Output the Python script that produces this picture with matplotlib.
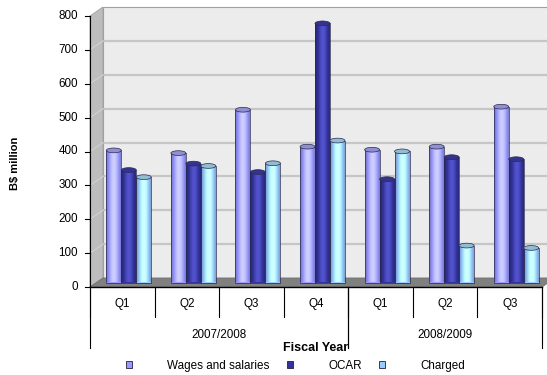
import matplotlib.pyplot as plt
import numpy as np
from matplotlib.patches import Polygon, Rectangle, Ellipse, Patch
from matplotlib.transforms import ScaledTranslation
from matplotlib.colors import to_rgb

plt.rcParams['font.family'] = ['Liberation Sans', 'DejaVu Sans']

quarters = ['Q1', 'Q2', 'Q3', 'Q4', 'Q1', 'Q2', 'Q3']
years = ['2007/2008', '2008/2009']
year_spans = [(0, 4), (4, 7)]
series = ['Wages and salaries', 'OCAR', 'Charged']
wages = [390, 382, 510, 401, 392, 401, 519]
ocar = [332, 351, 326, 765, 305, 370, 364]
charged = [311, 344, 352, 419, 387, 109, 102]
colors = ['#9999ff', '#333399', '#99ccff']
yticks = [0, 100, 200, 300, 400, 500, 600, 700, 800]

FS = 8.4
W, H = 547, 375
fig = plt.figure(figsize=(W / 100, H / 100), dpi=100)
# front plane of the 3-D box, in pixels
x0, x1, yb, yt = 90, 542, 287, 16
ax = fig.add_axes([x0 / W, 1 - yb / H, (x1 - x0) / W, (yb - yt) / H])
ax.set_xlim(0, len(quarters))
ax.set_ylim(0, 800)
ax.axis('off')

# depth of the box (px) expressed in data units
depth_px = (13, 9)
ux = len(quarters) / (x1 - x0)
uy = 800 / (yb - yt)
dx, dy = depth_px[0] * ux, depth_px[1] * uy
n = len(quarters)

# back wall
ax.add_patch(Polygon([(dx, dy), (n + dx, dy), (n + dx, 800 + dy), (dx, 800 + dy)],
                     closed=True, fc='#ececec', ec='#a0a0a0', lw=0.8,
                     clip_on=False, zorder=0))
# left side wall
ax.add_patch(Polygon([(0, 0), (dx, dy), (dx, 800 + dy), (0, 800)], closed=True,
                     fc='#bdbdbd', ec='#a0a0a0', lw=0.6, clip_on=False, zorder=0.5))
# floor
ax.add_patch(Polygon([(0, 0), (dx, dy), (n + dx, dy), (n, 0)], closed=True,
                     fc='#808080', ec='#707070', lw=0.6, clip_on=False, zorder=0.5))
# gridlines on the back wall and side wall
for v in yticks[1:-1]:
    ax.plot([dx, n + dx], [v + dy, v + dy], color='#c6c6c6', lw=1.6,
            clip_on=False, zorder=0.2, solid_capstyle='butt')
    ax.plot([0, dx], [v, v + dy], color='#d0d0d0', lw=0.8,
            clip_on=False, zorder=0.6)

# bars sit halfway into the box
mid = ScaledTranslation(depth_px[0] / 2 / 100, depth_px[1] / 2 / 100,
                        fig.dpi_scale_trans)
tr = ax.transData + mid
bw = 0.232
offsets = [-bw, 0, bw]
x = np.arange(n) + 0.5

def shade(c, t):
    # cylinder shading across the width
    base = np.array(to_rgb(c))
    f = 0.72 + 0.5 * np.sin(np.pi * (t * 0.85 + 0.05)) ** 1.5
    out = np.clip(base[None, :] * f[:, None] + (f[:, None] - 1).clip(0) * 0.35, 0, 1)
    return out

t = np.linspace(0, 1, 40)
for vals, off, c in zip([wages, ocar, charged], offsets, colors):
    grad = shade(c, t)[None, :, :]
    for xi, v in zip(x + off, vals):
        rect = Rectangle((xi - bw / 2, 0), bw, v, transform=tr, fc=c,
                         ec='none', zorder=2, clip_on=False)
        ax.add_patch(rect)
        im = ax.imshow(grad, extent=(xi - bw / 2, xi + bw / 2, 0, v),
                       aspect='auto', transform=tr, zorder=2.1,
                       interpolation='bilinear')
        im.set_clip_path(rect)
        ax.add_patch(Rectangle((xi - bw / 2, 0), bw, v, transform=tr,
                               fc='none', ec='#2a2a55', lw=0.5, zorder=2.2,
                               clip_on=False))
        ax.add_patch(Ellipse((xi, v), bw, 14, transform=tr,
                             fc=shade(c, np.array([0.3]))[0] * 0.82,
                             ec='#2a2a55', lw=0.5, zorder=2.3, clip_on=False))
ax.set_xlim(0, n)
ax.set_ylim(0, 800)

# value axis
ax.plot([0, 0], [0, 800], color='black', lw=0.8, clip_on=False, zorder=3)
for v in yticks:
    ax.plot([-5 * ux, 0], [v, v], color='black', lw=0.8, clip_on=False, zorder=3)
    ax.text(-12 * ux, v, str(v), ha='right', va='center', fontsize=FS)
ax.text(-75 * ux, 400 - 12 * uy, 'B$ million', rotation=90, ha='center',
        va='center', fontsize=8, fontweight='bold')

# category axis with two label levels
ax.plot([0, n], [0, 0], color='black', lw=1.0, clip_on=False, zorder=3)
for i in range(n + 1):
    ax.plot([i, i], [0, -30 * uy], color='black', lw=0.8, clip_on=False)
for i, q in enumerate(quarters):
    ax.text(i + 0.5, -17 * uy, q, ha='center', va='center', fontsize=FS)
for (a, b), yr in zip(year_spans, years):
    ax.plot([a, a], [0, -61 * uy], color='black', lw=0.8, clip_on=False)
    ax.plot([b, b], [0, -61 * uy], color='black', lw=0.8, clip_on=False)
    ax.text((a + b) / 2, -48 * uy, yr, ha='center', va='center', fontsize=FS)
ax.text(n / 2, -61 * uy, 'Fiscal Year', ha='center', va='center',
        fontsize=9, fontweight='bold')

handles = [Patch(fc=c, ec='#202040', lw=0.6) for c in colors]
fig.legend(handles, series, loc='center', bbox_to_anchor=(0.54, 1 - 366 / H),
           ncol=3, frameon=False, fontsize=FS, handlelength=0.55,
           handleheight=0.55, handletextpad=3.0, columnspacing=1.45,
           borderpad=0, borderaxespad=0)

fig.savefig('out.png', dpi=100)
